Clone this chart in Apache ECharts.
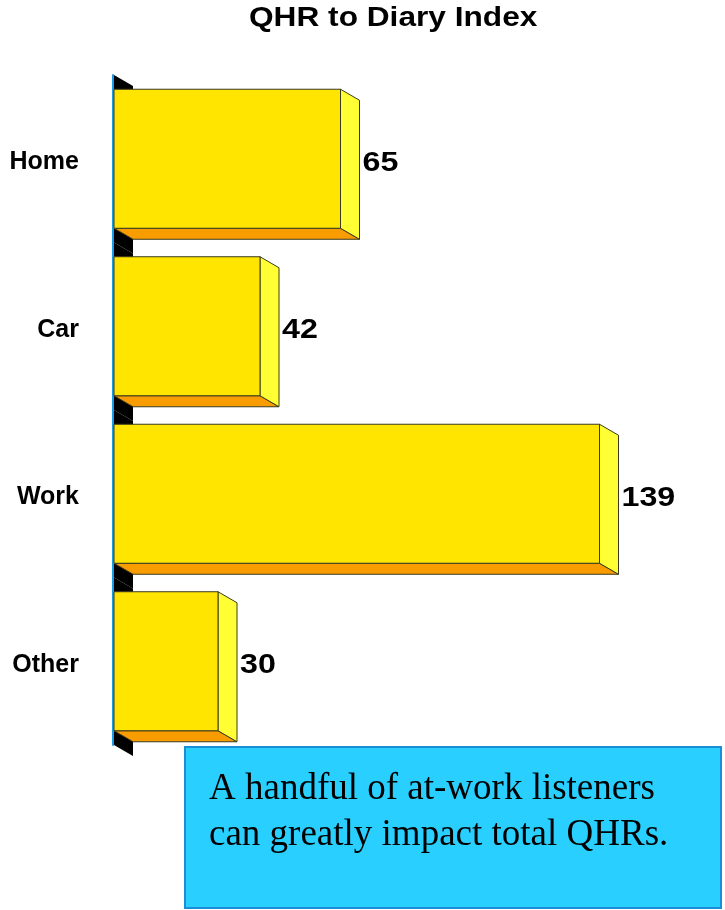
<!DOCTYPE html>
<html>
<head>
<meta charset="utf-8">
<script src="https://cdn.jsdelivr.net/npm/echarts@6/dist/echarts.min.js"></script>
<style>
  html, body { margin: 0; padding: 0; background: #fff; }
  #chart { width: 725px; height: 910px; }
</style>
</head>
<body>
<div id="chart"></div>
<script>
const categories = ['Home', 'Car', 'Work', 'Other'];
const values = [65, 42, 139, 30];
const note = ['A handful of at-work listeners', 'can greatly impact total QHRs.'];

const DX = 19;
const DY = 11;
const SANS = 'Arial, "Liberation Sans", sans-serif';

function renderBar(params, api) {
  const cat = api.value(1);
  const start = api.coord([0, cat]);
  const end = api.coord([api.value(0), cat]);
  const band = api.size([0, 1])[1];
  const barH = band * 0.83;
  const x0 = start[0] + 1;
  const x1 = end[0];
  const top = start[1] - barH / 2;
  const bottom = top + barH;
  const bandTop = start[1] - band / 2;
  const bandBottom = start[1] + band / 2;
  const mid = (top + bottom) / 2 + DY / 2;
  const edge = { stroke: '#3a3a20', lineWidth: 1 };

  return {
    type: 'group',
    children: [
      {
        type: 'polygon',
        shape: { points: [[x0, bandTop], [x0 + DX, bandTop + DY], [x0 + DX, bandBottom + DY], [x0, bandBottom]] },
        style: { fill: '#000' }
      },
      {
        type: 'polygon',
        shape: { points: [[x0, bottom], [x1, bottom], [x1 + DX, bottom + DY], [x0 + DX, bottom + DY]] },
        style: Object.assign({ fill: '#F89C00' }, edge)
      },
      {
        type: 'polygon',
        shape: { points: [[x1, top], [x1 + DX, top + DY], [x1 + DX, bottom + DY], [x1, bottom]] },
        style: Object.assign({ fill: '#FFFF33' }, edge)
      },
      {
        type: 'rect',
        shape: { x: x0, y: top, width: x1 - x0, height: barH },
        style: Object.assign({ fill: '#FFE500' }, edge)
      },
      {
        type: 'text',
        x: x1 + DX + 3,
        y: mid - 1,
        scaleX: 1.15,
        style: {
          text: String(api.value(0)),
          fill: '#000',
          font: 'bold 28px ' + SANS,
          verticalAlign: 'middle',
          align: 'left'
        }
      },
      {
        type: 'text',
        x: x0 - 35,
        y: mid - 2,
        style: {
          text: categories[cat],
          fill: '#000',
          font: 'bold 25px ' + SANS,
          verticalAlign: 'middle',
          align: 'right'
        }
      }
    ]
  };
}

const chart = echarts.init(document.getElementById('chart'));
chart.setOption({
  animation: false,
  backgroundColor: '#fff',
  grid: { left: 113, right: 17, top: 75, bottom: 165 },
  xAxis: {
    type: 'value',
    min: 0,
    max: 170,
    show: false
  },
  yAxis: {
    type: 'category',
    data: categories,
    inverse: true,
    axisTick: { show: false },
    axisLine: { lineStyle: { color: '#1E9BE6', width: 2 } },
    axisLabel: { show: false }
  },
  series: [{
    type: 'custom',
    renderItem: renderBar,
    encode: { x: 0, y: 1 },
    data: values.map((v, i) => [v, i]),
    clip: false,
    z: 1
  }],
  graphic: [
    {
      type: 'text',
      x: 249,
      y: 4,
      scaleX: 1.13,
      style: {
        text: 'QHR to Diary Index',
        fill: '#000',
        font: 'bold 28px ' + SANS,
        verticalAlign: 'top'
      }
    },
    {
      type: 'rect',
      shape: { x: 185, y: 747, width: 536, height: 161 },
      style: { fill: '#29D0FF', stroke: '#1A8FD8', lineWidth: 2 }
    },
    {
      type: 'text',
      x: 209,
      y: 766,
      style: {
        text: note.join('\n'),
        fill: '#000',
        font: '37px "Liberation Serif", "Times New Roman", serif',
        lineHeight: 46,
        verticalAlign: 'top'
      }
    }
  ]
});
</script>
</body>
</html>
